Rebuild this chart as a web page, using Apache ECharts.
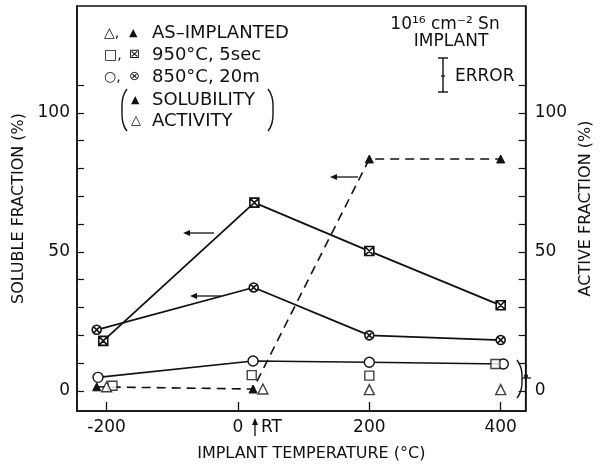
<!DOCTYPE html>
<html><head><meta charset="utf-8">
<script src="https://cdn.jsdelivr.net/npm/echarts@6/dist/echarts.min.js"></script>
<style>html,body{margin:0;padding:0;background:#fff}#c{width:602px;height:467px}</style>
</head><body><div id="c"></div>
<script>
// ---- data (temperature °C, fraction %) ----
const xTickValues = [-200, 0, 200, 400];
const yLabelValues = [0, 50, 100];
const yTickValues = [0, 10, 20, 30, 40, 50, 60, 70, 80, 90, 100, 110];

// solubility (left axis, filled symbols)
const sol950X = [-205, 25, 200, 400];
const sol950Y = [18, 67.7, 50.3, 30.8];
const sol850X = [-215, 24, 200, 400];
const sol850Y = [22, 37.2, 20, 18.3];
const solAsImpX = [-215, 23, 200, 400];
const solAsImpY = [1.5, 0.7, 83.4, 83.4];

// activity (right axis, open symbols)
const act850X = [-213, 23, 200, 404];
const act850Y = [4.9, 10.8, 10.3, 9.7];
const act950X = [-191, 21, 200, 392];
const act950Y = [1.9, 5.7, 5.5, 9.7];
const actAsImpX = [-200, 38, 200, 400];
const actAsImpY = [1.5, 0.7, 0.5, 0.5];

const zip = (xs, ys) => xs.map((x, i) => [x, ys[i]]);
const INK = '#111';
const FONT = 'DejaVu Sans';
const SQX = 'path://M0,0L10,0L10,10L0,10Z M0,0L10,10 M10,0L0,10';
const CIRX = 'path://M10,5A5,5,0,1,1,0,5A5,5,0,1,1,10,5Z M1.6,1.6L8.4,8.4 M8.4,1.6L1.6,8.4';

const chart = echarts.init(document.getElementById('c'), null, {renderer: 'canvas'});

function leftArrow(x1, x2, y) {
  return [
    {type: 'line', shape: {x1: x1 + 4, y1: y, x2: x2, y2: y}, style: {stroke: INK, lineWidth: 1.3}},
    {type: 'polygon', shape: {points: [[x1, y], [x1 + 7, y - 3], [x1 + 7, y + 3]]}, style: {fill: INK}}
  ];
}
function txt(x, y, s, size, align) {
  return {type: 'text', x: x, y: y, style: {text: s, fill: INK, font: (size || 17) + 'px "' + FONT + '"', textAlign: align || 'left', textVerticalAlign: 'middle'}};
}

const graphics = [].concat(
  // legend
  txt(104, 33, '△,', 14), txt(129, 33, '▲', 11), txt(152, 33, 'AS\u2013IMPLANTED', 18),
  txt(104, 55, '□,', 14), txt(129, 55, '⊠', 13), txt(152, 55, '950°C, 5sec', 18),
  txt(104, 77, '○,', 14), txt(129, 77, '⊗', 13), txt(152, 77, '850°C, 20m', 18),
  txt(131, 100, '▲', 11), txt(152, 100, 'SOLUBILITY', 18),
  txt(131, 121, '△', 13), txt(152, 121, 'ACTIVITY', 18),
  [
    {type: 'polyline', shape: {points: [[127, 89], [123, 97], [122, 110], [123, 123], [127, 131]], smooth: 0.5}, style: {stroke: INK, lineWidth: 1.4, fill: null}},
    {type: 'polyline', shape: {points: [[268, 89], [272, 97], [273, 110], [272, 123], [268, 131]], smooth: 0.5}, style: {stroke: INK, lineWidth: 1.4, fill: null}}
  ],
  // top-right annotation
  txt(445, 25, '10¹⁶ cm⁻² Sn', 17, 'center'),
  txt(451, 42, 'IMPLANT', 17, 'center'),
  [
    {type: 'line', shape: {x1: 443, y1: 58, x2: 443, y2: 92}, style: {stroke: INK, lineWidth: 1.4}},
    {type: 'line', shape: {x1: 438, y1: 58, x2: 448, y2: 58}, style: {stroke: INK, lineWidth: 1.4}},
    {type: 'line', shape: {x1: 438, y1: 92, x2: 448, y2: 92}, style: {stroke: INK, lineWidth: 1.4}},
    {type: 'line', shape: {x1: 441, y1: 76, x2: 445, y2: 76}, style: {stroke: INK, lineWidth: 1.2}}
  ],
  txt(455, 77, 'ERROR', 17),
  // arrows indicating axis
  leftArrow(183, 214, 233),
  leftArrow(190, 221, 296),
  leftArrow(330, 358, 177),
  // right bracket for activity
  [
    {type: 'polyline', shape: {points: [[517, 360], [521, 368], [522, 379], [521, 390], [517, 398]], smooth: 0.5}, style: {stroke: INK, lineWidth: 1.4, fill: null}},
    {type: 'line', shape: {x1: 522, y1: 378, x2: 531, y2: 378}, style: {stroke: INK, lineWidth: 1.3}},
    {type: 'circle', shape: {cx: 526, cy: 376, r: 2}, style: {fill: INK}}
  ],
  // RT marker
  [
    {type: 'line', shape: {x1: 255, y1: 420, x2: 255, y2: 436}, style: {stroke: INK, lineWidth: 1.3}},
    {type: 'polygon', shape: {points: [[255, 418], [252, 425], [258, 425]]}, style: {fill: INK}}
  ],
  txt(261, 428, 'RT', 17)
);

const option = {
  animation: false,
  backgroundColor: '#fff',
  textStyle: {fontFamily: FONT, color: INK},
  grid: {left: 77, right: 71, top: 6, bottom: 55, show: true, borderColor: INK, borderWidth: 1.5, backgroundColor: 'transparent'},
  xAxis: {
    type: 'value', min: -245, max: 438,
    name: 'IMPLANT TEMPERATURE (°C)', nameLocation: 'middle', nameGap: 35,
    nameTextStyle: {fontSize: 16, color: INK, fontFamily: FONT, padding: [0, 0, 0, 20]},
    axisLine: {show: true, onZero: false, lineStyle: {color: INK, width: 1.5}},
    axisTick: {show: true, inside: true, length: 9, customValues: xTickValues, lineStyle: {color: INK, width: 1.3}},
    axisLabel: {customValues: xTickValues, margin: 8, fontSize: 17, color: INK, fontFamily: FONT},
    splitLine: {show: false}
  },
  yAxis: [
    {
      type: 'value', min: -7.2, max: 138.4, position: 'left',
      name: 'SOLUBLE FRACTION (%)', nameLocation: 'middle', nameGap: 45, nameRotate: 90,
      nameTextStyle: {fontSize: 16, color: INK, fontFamily: FONT},
      axisLine: {show: true, onZero: false, lineStyle: {color: INK, width: 1.5}},
      axisTick: {show: true, inside: true, length: 7, customValues: yTickValues, lineStyle: {color: INK, width: 1.2}},
      axisLabel: {customValues: yLabelValues, margin: 7, fontSize: 17, color: INK, fontFamily: FONT},
      splitLine: {show: false}
    },
    {
      type: 'value', min: -7.2, max: 138.4, position: 'right',
      name: 'ACTIVE FRACTION (%)', nameLocation: 'middle', nameGap: 43, nameRotate: 90,
      nameTextStyle: {fontSize: 16, color: INK, fontFamily: FONT},
      axisLine: {show: true, onZero: false, lineStyle: {color: INK, width: 1.5}},
      axisTick: {show: true, inside: true, length: 7, customValues: yTickValues, lineStyle: {color: INK, width: 1.2}},
      axisLabel: {customValues: yLabelValues, margin: 9, fontSize: 17, color: INK, fontFamily: FONT},
      splitLine: {show: false}
    }
  ],
  series: [
    {
      name: 'As-implanted solubility', type: 'line', yAxisIndex: 0, data: zip(solAsImpX, solAsImpY),
      symbol: 'triangle', symbolSize: 8,
      lineStyle: {color: INK, width: 1.6, type: [9, 6]},
      itemStyle: {color: INK, borderColor: INK, borderWidth: 1}, z: 3
    },
    {
      name: '950C solubility', type: 'line', yAxisIndex: 0, data: zip(sol950X, sol950Y),
      symbol: SQX, symbolSize: 9, symbolKeepAspect: true,
      lineStyle: {color: INK, width: 1.8},
      itemStyle: {color: '#fff', borderColor: INK, borderWidth: 1.6}, z: 4
    },
    {
      name: '850C solubility', type: 'line', yAxisIndex: 0, data: zip(sol850X, sol850Y),
      symbol: CIRX, symbolSize: 9, symbolKeepAspect: true,
      lineStyle: {color: INK, width: 1.8},
      itemStyle: {color: '#fff', borderColor: INK, borderWidth: 1.6}, z: 4
    },
    {
      name: '850C activity', type: 'line', yAxisIndex: 1, data: zip(act850X, act850Y),
      symbol: 'circle', symbolSize: 10,
      lineStyle: {color: INK, width: 1.6},
      itemStyle: {color: '#fff', borderColor: INK, borderWidth: 1.4}, z: 4
    },
    {
      name: '950C activity', type: 'scatter', yAxisIndex: 1, data: zip(act950X, act950Y),
      symbol: 'rect', symbolSize: 9,
      itemStyle: {color: '#fff', borderColor: INK, borderWidth: 1.4}, z: 5
    },
    {
      name: 'As-implanted activity', type: 'scatter', yAxisIndex: 1, data: zip(actAsImpX, actAsImpY),
      symbol: 'triangle', symbolSize: 10,
      itemStyle: {color: '#fff', borderColor: INK, borderWidth: 1.4}, z: 5
    }
  ],
  graphic: graphics.map(g => Object.assign({z: 100}, g))
};
chart.setOption(option);
</script>
</body></html>
